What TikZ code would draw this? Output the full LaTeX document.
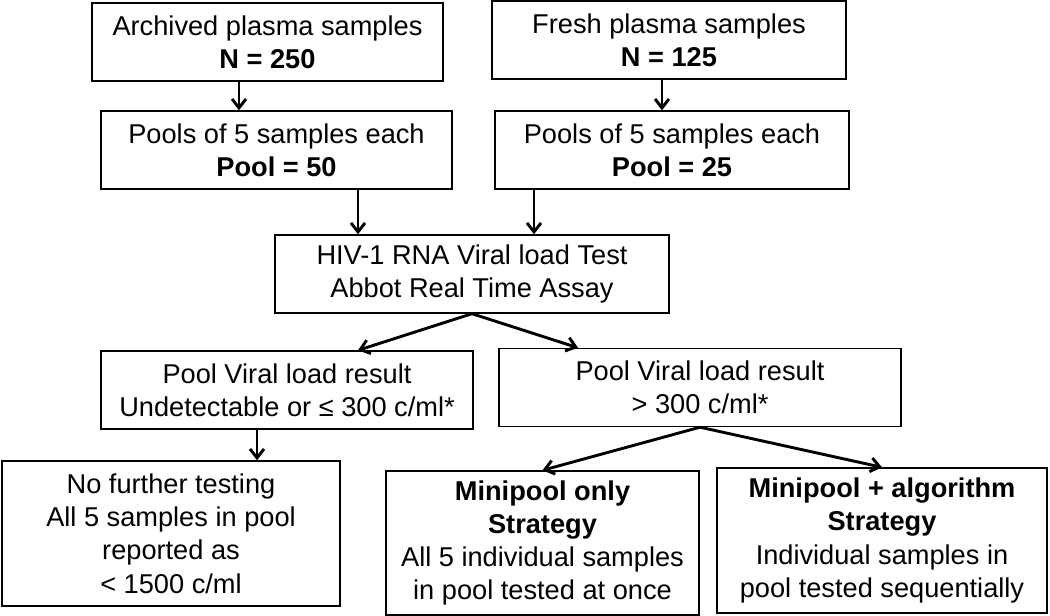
\documentclass[tikz,border=0pt]{standalone}
\usepackage{fontspec}
\setmainfont{Liberation Sans}
\usepackage{tikz}
\usetikzlibrary{arrows.meta}
\newcommand{\widthsrc}{175.5pt}
\newcommand{\widthtest}{197pt}
\newcommand{\widthres}{186pt}
\tikzset{
    common/.style={draw, rectangle, line width=0.7pt, align=center, inner sep=2pt,
        font=\fontsize{13.6}{16.6}\selectfont},
    stagebox/.style={common, minimum height=39pt},
    endbox/.style={common, minimum height=72.5pt},
    flow/.style={-{Straight Barb[length=4.5pt,width=7pt]}, line width=1.45pt}
}
\begin{document}
\begin{tikzpicture}[x=0.5pt, y=-0.5pt]
            \useasboundingbox (0,0) rectangle (1050,616);
            \path
                (267.5,42) node[stagebox, minimum width=\widthsrc] (archived) {Archived plasma samples\\\textbf{N = 250}}
                to ++(9,108) node[stagebox, minimum width=\widthsrc] (poolsA) {Pools of 5 samples each\\\textbf{Pool = 50}};
            \path
                (669,40) node[stagebox, minimum width=177pt] (fresh) {Fresh plasma samples\\\textbf{N = 125}}
                to ++(3,110) node[stagebox, minimum width=177pt] (poolsB) {Pools of 5 samples each\\\textbf{Pool = 25}};
            \path
                (472,274) node[stagebox, minimum width=\widthtest] (test) {HIV-1 RNA Viral load Test\\Abbot Real Time Assay};
            \path
                (287,390) node[stagebox, minimum width=\widthres] (low) {Pool Viral load result\\Undetectable or ≤ 300 c/ml*}
                to ++(-116,143.5) node[endbox, minimum width=169pt] (nofurther) {No further testing\\All 5 samples in pool\\reported as\\< 1500 c/ml};
            \path
                (700,387.5) node[stagebox, minimum width=201pt] (high) {Pool Viral load result\\> 300 c/ml*}
                to ++(-157.5,155.5) node[endbox, minimum width=156.5pt, minimum height=72pt] (minionly) {\textbf{Minipool only}\\\textbf{Strategy}\\All 5 individual samples\\in pool tested at once};
            \path
                (700,387.5)
                to ++(182,153) node[endbox, minimum width=165pt] (minialgo) {\textbf{Minipool + algorithm}\\\textbf{Strategy}\\Individual samples in\\pool tested sequentially};

            \draw[flow] ([xshift=-14.25pt]archived.south) -- ([xshift=-14.25pt]archived.south |- poolsA.north);
            \draw[flow] ([xshift=-3.5pt]fresh.south) -- ([xshift=-3.5pt]fresh.south |- poolsB.north);
            \draw[flow] ([xshift=40.75pt]poolsA.south) -- ([xshift=40.75pt]poolsA.south |- test.north);
            \draw[flow] ([xshift=-69pt]poolsB.south) -- ([xshift=-69pt]poolsB.south |- test.north);
            \draw[flow] (test.south) -- ([xshift=35.5pt]low.north);
            \draw[flow] (test.south) -- ([xshift=-61pt]high.north);
            \draw[flow] ([xshift=-15pt]low.south) -- ([xshift=-15pt]low.south |- nofurther.north);
            \draw[flow] (high.south) -- (minionly.north);
            \draw[flow] (high.south) -- (minialgo.north);

        \end{tikzpicture}
\end{document}
